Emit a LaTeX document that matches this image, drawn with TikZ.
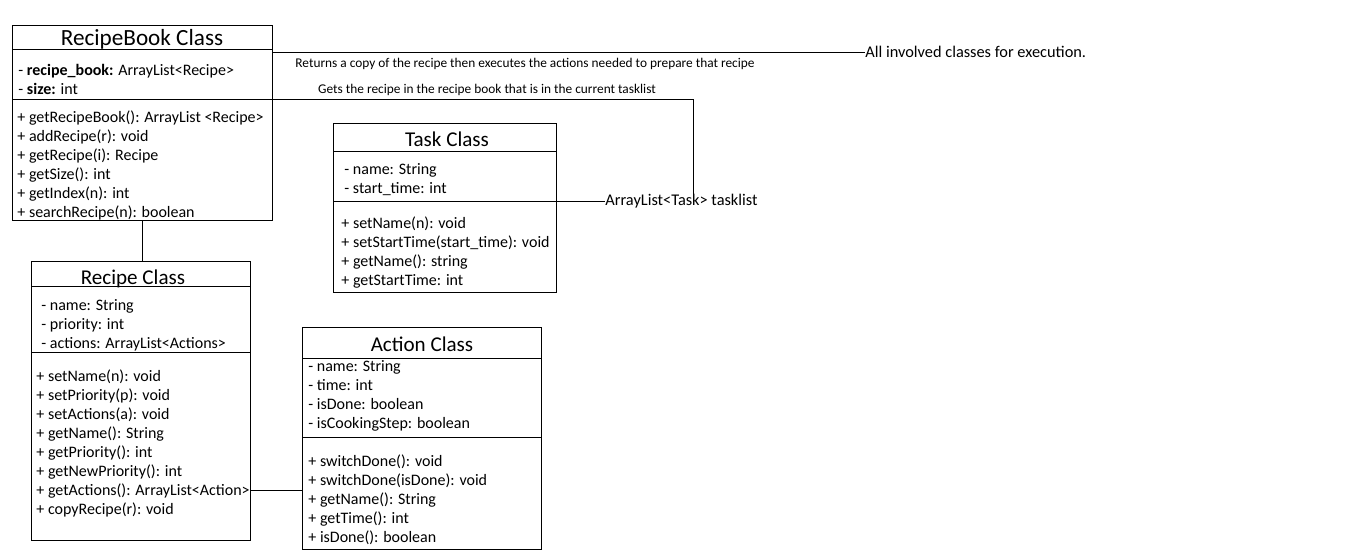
\documentclass[tikz,border=0pt]{standalone}
\usepackage{fontspec}
\setmainfont{Carlito}
\usetikzlibrary{positioning}

\begin{document}
\begin{tikzpicture}[x=0.02cm,y=-0.02cm,line width=0.5pt,
  umlbox/.style={draw,anchor=north west,inner sep=0pt},
  umltitle/.style={inner sep=0pt,font=\fontsize{12}{14}\selectfont},
  umlmembers/.style={align=left,anchor=north west,inner sep=0pt,
    font=\fontsize{9.1}{10.85}\selectfont},
  umlnote/.style={inner sep=0pt,font=\fontsize{7.6}{9}\selectfont},
  umllabel/.style={inner sep=0pt,anchor=west,font=\fontsize{9.3}{11}\selectfont}
]
  \fill[white] (0,0) rectangle (1360,558);
  \useasboundingbox (0,0) rectangle (1360,558);

  % RecipeBook class
  \node[umlbox,minimum width=5.2cm,minimum height=3.9cm] (rbook) at (12,25) {};
  \node[umltitle,font=\fontsize{13.2}{15}\selectfont] (rbooktitle) at (142,39) {RecipeBook Class};
  \draw (rbook.west |- 0,49) -- (rbook.east |- 0,49);
  \draw (rbook.west |- 0,99) -- (rbook.east |- 0,99);
  \node[umlmembers] (rbookattr) at (18,64) {- \textbf{recipe\_book:} ArrayList<Recipe>\\- \textbf{size:} int};
  \node[umlmembers] (rbookops) at (17,110) {+ getRecipeBook(): ArrayList <Recipe>\\+ addRecipe(r): void\\
    + getRecipe(i): Recipe\\+ getSize(): int\\+ getIndex(n): int\\+ searchRecipe(n): boolean};

  % Recipe class
  \node[umlbox,minimum width=4.38cm,minimum height=5.58cm] (recipe) at (31,261) {};
  \node[umltitle] (recipetitle) at (133,279) {Recipe Class};
  \draw (recipe.west |- 0,286) -- (recipe.east |- 0,286);
  \draw (recipe.west |- 0,352) -- (recipe.east |- 0,352);
  \node[umlmembers] (recipeattr) at (41,299) {- name: String\\- priority: int\\- actions: ArrayList<Actions>};
  \node[umlmembers] (recipeops) at (36,369) {+ setName(n): void\\+ setPriority(p): void\\+ setActions(a): void\\
    + getName(): String\\+ getPriority(): int\\+ getNewPriority(): int\\
    + getActions(): ArrayList<Action>\\+ copyRecipe(r): void};
  \coordinate (getact) at (250,490);

  % Task class
  \node[umlbox,minimum width=4.46cm,minimum height=3.38cm] (task) at (333,123) {};
  \node[umltitle] (tasktitle) at (447,139) {Task Class};
  \draw (task.west |- 0,151) -- (task.east |- 0,151);
  \draw (task.west |- 0,201) -- (task.east |- 0,201);
  \node[umlmembers] (taskattr) at (344,163) {- name: String\\- start\_time: int};
  \node[umlmembers] (taskops) at (341,216) {+ setName(n): void\\+ setStartTime(start\_time): void\\
    + getName(): string\\+ getStartTime: int};

  % Action class
  \node[umlbox,minimum width=4.78cm,minimum height=4.44cm] (action) at (302,327) {};
  \node[umltitle] (actiontitle) at (422,344) {Action Class};
  \draw (action.west |- 0,358) -- (action.east |- 0,358);
  \draw (action.west |- 0,437) -- (action.east |- 0,437);
  \node[umlmembers] (actionattr) at (308,360) {- name: String\\- time: int\\- isDone: boolean\\- isCookingStep: boolean};
  \node[umlmembers] (actionops) at (308,454) {+ switchDone(): void\\+ switchDone(isDone): void\\
    + getName(): String\\+ getTime(): int\\+ isDone(): boolean};

  % Notes and labels
  \node[umlnote] (copynote) at (525,64) {Returns a copy of the recipe then executes the actions needed to prepare that recipe};
  \node[umlnote] (getsnote) at (487,90) {Gets the recipe in the recipe book that is in the current tasklist};
  \node[umllabel] (allinv) at (865,52) {All involved classes for execution.};
  \node[umllabel] (tasklist) at (605,201) {ArrayList<Task> tasklist};

  % Connectors
  \draw (allinv.west -| rbook.east) -- (allinv.west);
  \draw (rbook.east |- 0,99) -| (tasklist.north -| 693,0);
  \draw (task.east |- tasklist.west) -- (tasklist.west);
  \draw (rbook.south) -- (rbook.south |- recipe.north);
  \draw (getact) -- (getact -| action.west);
\end{tikzpicture}
\end{document}
